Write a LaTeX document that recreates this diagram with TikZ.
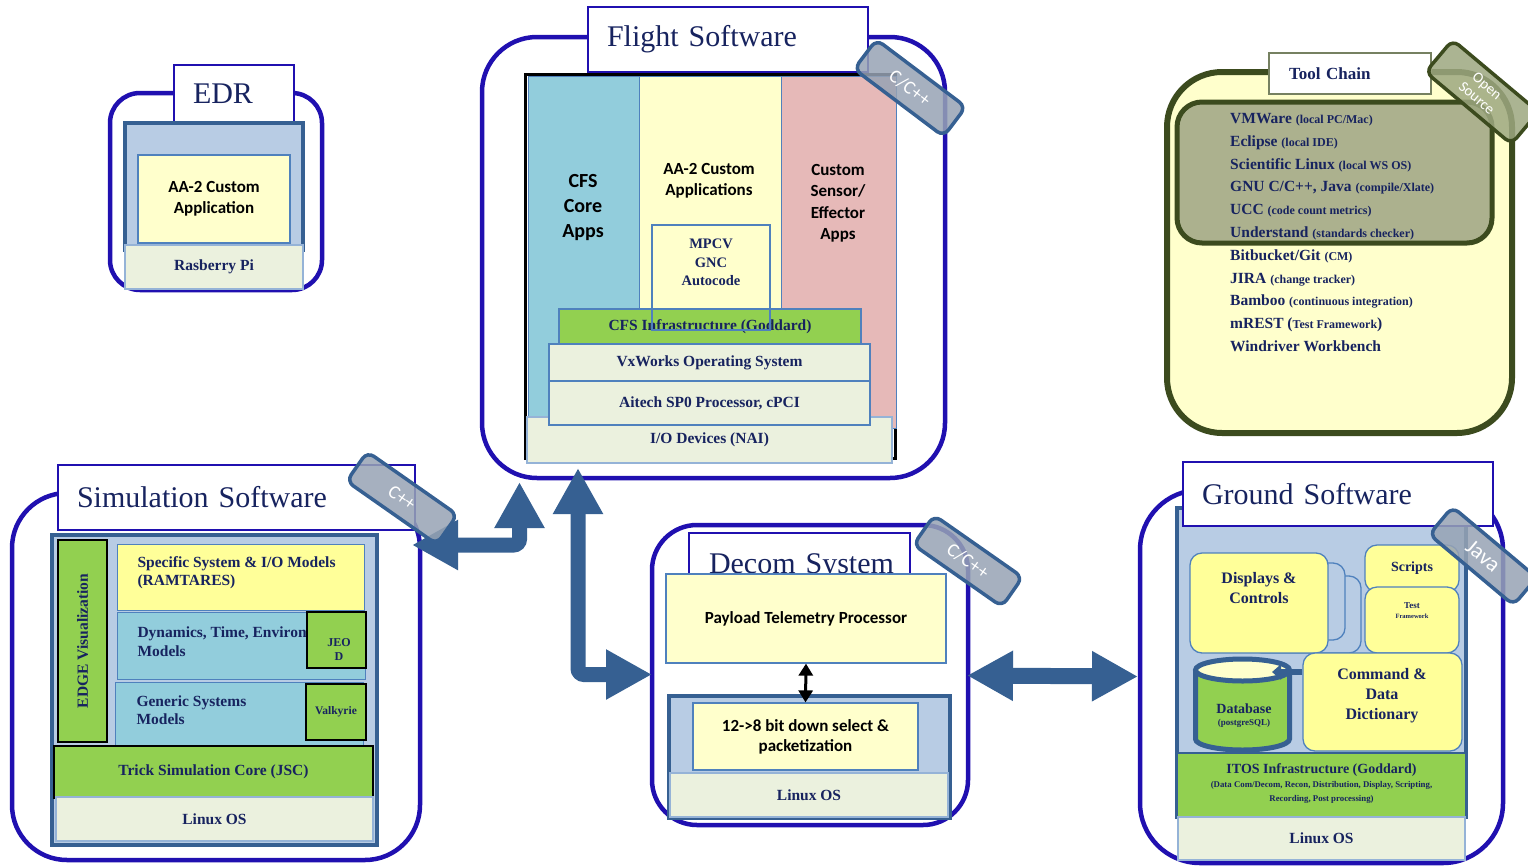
\documentclass[tikz,border=0pt]{standalone}
\usepackage{fontspec}
\setmainfont{Liberation Serif}
\newfontfamily\calib{Carlito}
\usetikzlibrary{arrows.meta}

\definecolor{frameblue}{RGB}{32,16,176}
\definecolor{navy}{RGB}{23,35,95}
\definecolor{steel}{RGB}{54,96,146}
\definecolor{paleblue}{RGB}{184,204,228}
\definecolor{edgeblue}{RGB}{79,129,189}
\definecolor{cream}{RGB}{255,255,204}
\definecolor{lemon}{RGB}{255,255,153}
\definecolor{leaf}{RGB}{146,208,80}
\definecolor{osgrey}{RGB}{235,241,222}
\definecolor{aqua}{RGB}{146,205,220}
\definecolor{rose}{RGB}{230,185,184}
\definecolor{badgegrey}{RGB}{151,163,180}
\definecolor{olive}{RGB}{60,75,30}
\definecolor{sage}{RGB}{172,177,142}
\definecolor{mossgrey}{RGB}{157,167,128}

\newcommand\setfs[2]{\fontsize{#1}{#2}\selectfont}
\newcommand\tlbig{\setfs{15.5}{18}}
\newcommand\tlsmall{\setfs{12}{13}}

\tikzset{
  outerframe/.style={draw=frameblue, line width=4.5, rounded corners=55, inner sep=0},
  titlebox/.style={draw=frameblue, line width=1.3, fill=white, inner xsep=19, inner ysep=0,
    align=left, text=navy, font=\setfs{30}{30}},
  slab/.style={draw=steel, line width=4, fill=paleblue, inner sep=0},
  column/.style={draw=edgeblue, line width=1, inner sep=0},
  oslayer/.style={draw=edgeblue!60, line width=1.2, fill=osgrey, inner sep=0, text=navy,
    font=\bfseries\setfs{15.5}{18}},
  greenbox/.style={draw=black, line width=2, fill=leaf, inner sep=0, text=navy, align=center,
    font=\bfseries\setfs{15.5}{18}},
  appbox/.style={draw=edgeblue, line width=1.2, fill=cream, inner sep=0, align=center,
    font=\calib\bfseries\setfs{17}{21}},
  roundbox/.style={draw=edgeblue, line width=1.3, rounded corners=12, inner sep=0},
  sanslabel/.style={align=center, text=black, font=\calib\bfseries\setfs{17}{21}},
  seriflabel/.style={align=left, text=navy, font=\bfseries\setfs{15.5}{18}},
  badge/.style={draw=steel, line width=3.5, fill=badgegrey, fill opacity=0.85, text opacity=1,
    text=white, rounded corners=8, minimum width=110, minimum height=36, inner sep=0,
    align=center, font=\calib\setfs{19}{19}},
  bigarrow/.style={draw=steel, line width=15, rounded corners=6,
    {Triangle[width=47pt,length=46pt]}-{Triangle[width=47pt,length=46pt]}},
  dbline/.style={draw=steel, line width=5}
}

\begin{document}
\begin{tikzpicture}[x=1pt, y=-1pt]
\path[use as bounding box, fill=white] (0,0) rectangle (1528,865);

% EDR
\node[outerframe, rounded corners=30, minimum width=212, minimum height=197] (edrFrame) at (216,191.5) {};
\node[titlebox, minimum height=58, text width=82] (edrTitle) at (234,94) {EDR};
\node[slab, minimum width=178, minimum height=127] (edrStack) at (214,186.5) {};
\node[appbox, minimum width=152, minimum height=88] (edrApp) at (214,199) {AA-2 Custom\\Application};
\node[oslayer, minimum width=178, minimum height=44] (edrOS) at (214,267) {Rasberry Pi};

% Flight Software
\node[outerframe, minimum width=463, minimum height=441] (flightFrame) at (713.5,257.5) {};
\node[titlebox, minimum height=65, text width=242] (flightTitle) at (728,39.5) {Flight Software};
\node[draw=black, line width=3, inner sep=0, minimum width=370, minimum height=384] (flightStack) at (710,266) {};
\node[column, fill=aqua, minimum width=111, minimum height=341] (cfsCol) at (583.5,246.5) {};
\node[column, fill=cream, minimum width=142, minimum height=232] (appCol) at (710,192) {};
\node[column, fill=rose, minimum width=115, minimum height=352] (sensCol) at (838.5,252) {};
\node[sanslabel, font=\calib\bfseries\setfs{20}{25}] (cfsText) at (583,208) {CFS\\Core\\Apps};
\node[sanslabel] (appText) at (709,181) {AA-2 Custom\\Applications};
\node[sanslabel, font=\calib\bfseries\setfs{17}{21.5}] (sensText) at (838,203.5) {Custom\\Sensor/\\Effector\\Apps};
\node[oslayer, minimum width=365, minimum height=46] (ioDev) at (709.5,440) {I/O Devices (NAI)};
\node[oslayer, fill=leaf, draw=edgeblue, minimum width=302, minimum height=35] (cfsInfra) at (710,326.5) {CFS Infrastructure (Goddard)};
\node[draw=edgeblue, line width=1.3, inner sep=0, minimum width=118, minimum height=105] (mpcv) at (711,277.5) {};
\node[seriflabel, align=center, font=\bfseries\setfs{14.5}{18.5}] (mpcvText) at (711,262.5) {MPCV\\GNC\\Autocode};
\node[oslayer, draw=edgeblue, minimum width=321, minimum height=38] (vxworks) at (709.5,363) {VxWorks Operating System};
\node[oslayer, draw=edgeblue, minimum width=321, minimum height=44] (aitech) at (709.5,403) {Aitech SP0 Processor, cPCI};

% Simulation Software
\node[outerframe, minimum width=408, minimum height=367] (simFrame) at (216,676.5) {};
\node[titlebox, minimum height=65, text width=319] (simTitle) at (236.5,497.5) {Simulation Software};
\node[slab, minimum width=325, minimum height=310] (simStack) at (214.5,690) {};
\node[greenbox, rotate=90, minimum width=202, minimum height=49] (edgeVis) at (82.5,641) {EDGE Visualization};
\node[column, fill=lemon, minimum width=247, minimum height=66] (specModels) at (240.5,577) {};
\node[seriflabel, anchor=west] (specText) at (134,573) {Specific System \& I/O Models\\(RAMTARES)};
\node[column, fill=aqua, minimum width=248, minimum height=67] (dynModels) at (241,645.5) {};
\node[seriflabel, anchor=west, font=\bfseries\setfs{15.5}{19}] (dynText) at (134,641.5) {Dynamics, Time, Environ\\Models};
\node[greenbox, minimum width=59, minimum height=56] (jeod) at (336.5,640) {};
\node[seriflabel, align=center, font=\bfseries\setfs{12}{14}] (jeodText) at (339,650) {JEO\\D};
\node[column, fill=aqua, minimum width=248, minimum height=63] (genModels) at (239,713.5) {};
\node[seriflabel, anchor=west] (genText) at (133,710) {Generic Systems\\Models};
\node[greenbox, minimum width=60, minimum height=56, font=\bfseries\setfs{11.5}{13}] (valkyrie) at (336,712) {Valkyrie};
\node[greenbox, minimum width=319, minimum height=52] (trickCore) at (213.5,772) {Trick Simulation Core (JSC)};
\node[oslayer, minimum width=317, minimum height=44] (simOS) at (214.5,819) {Linux OS};

% Decom System
\node[outerframe, rounded corners=45, minimum width=316, minimum height=300] (decomFrame) at (810,675) {};
\node[titlebox, minimum height=68, text width=197, inner xsep=12] (decomTitle) at (799.5,567) {\hspace*{8pt}Decom System};
\node[appbox, minimum width=280, minimum height=89] (ptp) at (806,618.5) {Payload Telemetry Processor};
\node[slab, minimum width=281, minimum height=122] (decomStack) at (809.5,757) {};
\node[appbox, minimum width=225, minimum height=67, font=\calib\bfseries\setfs{17}{20}] (packetizer) at (805.5,736.5) {12->8 bit down select \&\\packetization};
\node[oslayer, minimum width=278, minimum height=44] (decomOS) at (809,795) {Linux OS};
\draw[black, line width=3, {Triangle[width=14pt,length=12pt]}-{Triangle[width=14pt,length=12pt]}] (ptp.south) -- (packetizer.north);

% Ground Software
\node[outerframe, rounded corners=60, minimum width=363, minimum height=373] (groundFrame) at (1321.5,676.5) {};
\node[slab, minimum width=289, minimum height=309] (groundStack) at (1321.5,662.5) {};
\node[titlebox, minimum height=64, text width=272] (groundTitle) at (1338,494) {Ground Software};
\node[roundbox, fill=paleblue, minimum width=111, minimum height=77] (dispBack3) at (1305.5,614.5) {};
\node[roundbox, fill=paleblue, minimum width=115, minimum height=77] (dispBack2) at (1287.5,601.5) {};
\node[roundbox, fill=lemon, minimum width=138, minimum height=100] (displays) at (1259,603) {};
\node[seriflabel, align=center, font=\bfseries\setfs{16}{20}] (dispText) at (1259,588) {Displays \&\\Controls};
\node[roundbox, fill=lemon, minimum width=94, minimum height=47, text=navy, font=\bfseries\setfs{14}{16}] (scripts) at (1412,568.5) {Scripts};
\node[roundbox, fill=lemon, minimum width=94, minimum height=66] (testFw) at (1412,620) {};
\node[seriflabel, align=center, font=\bfseries\setfs{9}{10}] (testText) at (1412,611) {Test\\\setfs{6.5}{8}Framework};
\node[roundbox, fill=lemon, minimum width=159, minimum height=98] (cddBox) at (1382.5,702) {};
\node[seriflabel, align=center, font=\bfseries\setfs{16}{20}] (cddText) at (1382,696) {Command \&\\Data\\Dictionary};
\draw[dbline, fill=leaf] (1195.5,670) -- (1195.5,739) arc[start angle=180, end angle=0, x radius=47, y radius=11] -- (1289.5,670);
\draw[dbline, fill=cream] (1242.5,670) ellipse[x radius=47, y radius=11];
\node[seriflabel, font=\bfseries\setfs{14}{16}] (dbText) at (1244,709) {Database};
\node[seriflabel, font=\bfseries\setfs{9}{10}] (dbNote) at (1244,723) {(postgreSQL)};
\coordinate (dbPort) at (1272,672);
\draw[steel, line width=6, -{Triangle[width=15pt,length=9pt]}] (cddBox.west |- dbPort) -- (dbPort);
\node[greenbox, draw=steel, line width=1.5, minimum width=289, minimum height=64] (itos) at (1321.5,785) {};
\node[seriflabel, align=center, font=\bfseries\setfs{14}{14}] (itosText) at (1321.5,784) {ITOS Infrastructure (Goddard)\\\setfs{8.8}{11}(Data Com/Decom, Recon, Distribution, Display, Scripting,\\\setfs{8.8}{11}Recording, Post processing)};
\node[oslayer, minimum width=287, minimum height=43] (groundOS) at (1321.5,838.5) {Linux OS};

% Tool Chain
\node[outerframe, draw=olive, fill=cream, line width=6, minimum width=345, minimum height=361] (toolFrame) at (1339.5,252.5) {};
\node[outerframe, draw=olive, fill=sage, line width=5, rounded corners=25, minimum width=315, minimum height=141] (toolInner) at (1334.5,172.5) {};
\node[titlebox, draw=olive!70, line width=1.2, inner xsep=20, minimum height=41, text width=122, font=\bfseries\setfs{17}{17}] (toolTitle) at (1350,73.5) {Tool Chain};
\foreach \tool/\note [count=\i] in {VMWare/{(local PC/Mac)}, Eclipse/{(local IDE)},
    {Scientific Linux}/{(local WS OS)}, {GNU C/C++, Java}/{(compile/Xlate)},
    UCC/{(code count metrics)}, Understand/{(standards checker)}, {Bitbucket/Git}/{(CM)},
    JIRA/{(change tracker)}, Bamboo/{(continuous integration)},
    mREST/{\tlbig(\tlsmall Test Framework\tlbig)}, {Windriver Workbench}/{}}
  \node[text=navy, font=\bfseries, anchor=base west, inner sep=0] (tool\i) at (1230,{123.5+22.8*(\i-1)}) {\tlbig\tool\ \tlsmall\note};

% connectors
\coordinate (simTip) at (412,545);
\coordinate (simBend) at (519.5,545);
\coordinate (flightTipA) at (519.5,482);
\coordinate (flightTipB) at (578,468);
\coordinate (decomBend) at (578,674.5);
\coordinate (decomTipL) at (652,674.5);
\coordinate (decomTipR) at (967,675.5);
\coordinate (groundTip) at (1138,676.5);
\draw[bigarrow] (simTip) -- (simBend) -- (flightTipA);
\draw[bigarrow] (flightTipB) -- (decomBend) -- (decomTipL);
\draw[bigarrow, line width=16] (decomTipR) -- (groundTip);

% language badges
\node[badge, rotate=-37, minimum width=112, minimum height=37] (flightBadge) at (910,88) {C/C++};
\node[badge, rotate=-35] (simBadge) at (402,498) {C++};
\node[badge, rotate=-35, minimum width=108] (decomBadge) at (968,561) {C/C++};
\node[badge, rotate=-40, font=\calib\setfs{22}{22}] (groundBadge) at (1483,556) {Java};
\node[badge, draw=olive, fill=mossgrey, rotate=-40, minimum width=112, minimum height=42, font=\calib\setfs{15}{16}] (openBadge) at (1482,92) {Open\\Source};

\end{tikzpicture}
\end{document}
